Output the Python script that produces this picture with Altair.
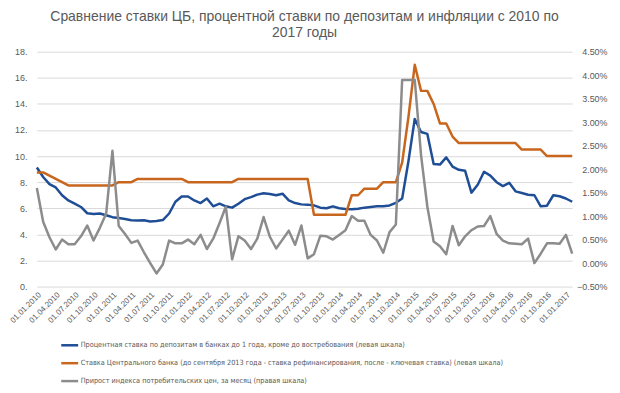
import altair as alt
import pandas as pd

# Categories: monthly, 01.01.2010 .. 01.02.2017
months = [f"01.{m:02d}.{y}" for y in range(2010, 2018) for m in range(1, 13)][:86]
tick_labels = months[::3]

name_dep = "Процентная ставка по депозитам в банках до 1 года, кроме до востребования (левая шкала)"
name_cbr = "Ставка Центрального банка (до сентября 2013 года - ставка рефинансирования, после - ключевая ставка) (левая шкала)"
name_cpi = "Прирост индекса потребительских цен, за месяц (правая шкала)"

deposit = [
    9.13, 8.4, 7.85, 7.6, 7.0, 6.6, 6.35, 6.1, 5.62, 5.57,
    5.6, 5.47, 5.32, 5.25, 5.18, 5.08, 5.06, 5.08, 4.99, 5.03,
    5.1, 5.6, 6.5, 6.9, 6.9, 6.6, 6.4, 6.75, 6.15, 6.35,
    6.15, 6.05, 6.35, 6.7, 6.86, 7.05, 7.15, 7.1, 7.0, 7.12,
    6.6, 6.4, 6.3, 6.28, 6.22, 6.05, 6.0, 6.15, 6.0, 5.95,
    5.92, 5.97, 6.05, 6.1, 6.15, 6.15, 6.22, 6.42, 6.75, 9.6,
    12.85, 11.85, 11.7, 9.4, 9.35, 9.9, 9.2, 8.95, 8.87, 7.2,
    7.8, 8.8, 8.5, 8.0, 7.7, 7.95, 7.3, 7.17, 7.04, 7.0,
    6.15, 6.2, 7.0, 6.92, 6.75, 6.5,
]

cbr_rate = [
    8.75, 8.75, 8.5, 8.25, 8.0, 7.75, 7.75, 7.75, 7.75, 7.75,
    7.75, 7.75, 7.75, 8.0, 8.0, 8.0, 8.25, 8.25, 8.25, 8.25,
    8.25, 8.25, 8.25, 8.25, 8.0, 8.0, 8.0, 8.0, 8.0, 8.0,
    8.0, 8.0, 8.25, 8.25, 8.25, 8.25, 8.25, 8.25, 8.25, 8.25,
    8.25, 8.25, 8.25, 8.25, 5.5, 5.5, 5.5, 5.5, 5.5, 5.5,
    7.0, 7.0, 7.5, 7.5, 7.5, 8.0, 8.0, 8.0, 9.5, 13.0,
    17.0, 15.0, 15.0, 14.0, 12.5, 12.5, 11.5, 11.0, 11.0, 11.0,
    11.0, 11.0, 11.0, 11.0, 11.0, 11.0, 11.0, 10.5, 10.5, 10.5,
    10.5, 10.0, 10.0, 10.0, 10.0, 10.0,
]

cpi = [
    1.6, 0.88, 0.55, 0.29, 0.5, 0.4, 0.4, 0.57, 0.8, 0.48,
    0.75, 1.05, 2.39, 0.79, 0.62, 0.43, 0.48, 0.23, 0.0, -0.22,
    -0.03, 0.48, 0.42, 0.42, 0.5, 0.4, 0.6, 0.3, 0.52, 0.85,
    1.2, 0.08, 0.57, 0.48, 0.3, 0.52, 0.98, 0.56, 0.31, 0.5,
    0.69, 0.39, 0.8, 0.1, 0.19, 0.58, 0.57, 0.5, 0.6, 0.7,
    1.0, 0.9, 0.9, 0.6, 0.48, 0.22, 0.66, 0.82, 3.9, 3.9,
    3.9, 2.3, 1.2, 0.46, 0.36, 0.19, 0.79, 0.38, 0.57, 0.7,
    0.78, 0.79, 1.0, 0.62, 0.48, 0.42, 0.41, 0.4, 0.52, 0.0,
    0.2, 0.42, 0.42, 0.41, 0.6, 0.2,
]

series_names = [name_dep, name_cbr, name_cpi]
series_colors = ["#1f4e96", "#c8661e", "#8c8c8c"]

left_rows = []
for i, m in enumerate(months):
    left_rows.append({"month": m, "series": name_dep, "value": deposit[i]})
for i, m in enumerate(months):
    left_rows.append({"month": m, "series": name_cbr, "value": cbr_rate[i]})
df_left = pd.DataFrame(left_rows)
df_right = pd.DataFrame({"month": months, "series": name_cpi, "value": cpi})

FONT = "Liberation Sans"
NARROW = "Liberation Sans Narrow, DejaVu Sans Condensed, Liberation Sans"
TXT = "#595959"

color = alt.Color(
    "series:N",
    scale=alt.Scale(domain=series_names, range=series_colors),
    legend=alt.Legend(
        title=None,
        orient="none",
        legendX=23,
        legendY=285,
        direction="vertical",
        symbolType="stroke",
        symbolSize=289,
        symbolStrokeWidth=2.5,
        labelFont=NARROW,
        labelFontSize=7.3,
        labelColor=TXT,
        labelLimit=0,
        labelOffset=1,
        rowPadding=3,
        padding=0,
    ),
)

x = alt.X(
    "month:O",
    sort=months,
    title=None,
    scale=alt.Scale(type="point", padding=0),
    axis=alt.Axis(
        values=tick_labels,
        labelAngle=-45,
        labelFont=FONT,
        labelFontSize=8,
        labelColor=TXT,
        labelPadding=4,
        ticks=False,
        domain=False,
        grid=False,
    ),
)

left = alt.Chart(df_left).mark_line(strokeWidth=2.5, strokeJoin="round").encode(
    x=x,
    y=alt.Y(
        "value:Q",
        title=None,
        scale=alt.Scale(domain=[0, 18], nice=False, zero=False),
        axis=alt.Axis(
            orient="left",
            values=list(range(0, 19, 2)),
            labelExpr="datum.value + '.'",
            grid=True,
            gridColor="#d9d9d9",
            gridWidth=1,
            ticks=False,
            domain=False,
            labelFont=FONT,
            labelFontSize=9,
            labelColor=TXT,
            labelPadding=10,
        ),
    ),
    color=color,
    detail="series:N",
)

right = alt.Chart(df_right).mark_line(strokeWidth=2.5, strokeJoin="round").encode(
    x=x,
    y=alt.Y(
        "value:Q",
        title=None,
        scale=alt.Scale(domain=[-0.5, 4.5], nice=False, zero=False),
        axis=alt.Axis(
            orient="right",
            values=[-0.5, 0, 0.5, 1, 1.5, 2, 2.5, 3, 3.5, 4, 4.5],
            labelExpr="format(datum.value, '.2f') + '%'",
            grid=False,
            ticks=False,
            domain=False,
            labelFont=FONT,
            labelFontSize=9,
            labelColor=TXT,
            labelAlign="right",
            labelPadding=35,
        ),
    ),
    color=color,
)

chart = (
    alt.layer(left, right)
    .resolve_scale(y="independent")
    .properties(
        width=538,
        height=236,
        padding={"left": 0, "top": 1, "right": 5, "bottom": 5},
        title=alt.TitleParams(
            text=[
                "Сравнение ставки ЦБ, процентной ставки по депозитам и инфляции с 2010 по",
                "2017 годы",
            ],
            font=FONT,
            fontSize=14,
            fontWeight="normal",
            color=TXT,
            lineHeight=16,
            anchor="middle",
            offset=8,
        ),
    )
    .configure_view(stroke=None)
)

chart.save("out.html", embed_options={"renderer": "svg", "actions": False})
